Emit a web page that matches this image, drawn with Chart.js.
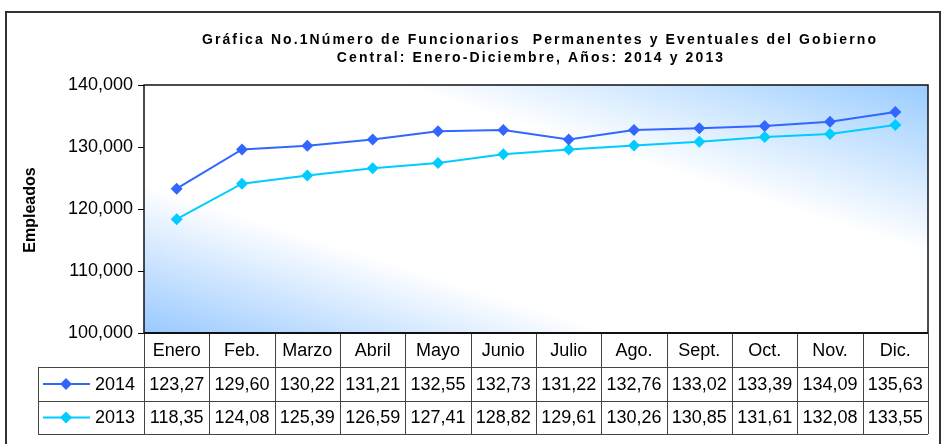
<!DOCTYPE html>
<html>
<head>
<meta charset="utf-8">
<script src="https://cdn.jsdelivr.net/npm/chart.js@4.4.1/dist/chart.umd.min.js"></script>
<style>
  html, body { margin: 0; padding: 0; background: #fff; }
  #wrap { width: 946px; height: 444px; }
</style>
</head>
<body>
<div id="wrap"><canvas id="grafica"></canvas></div>
<script>
/* ---------- datos ---------- */
const meses = ['Enero', 'Feb.', 'Marzo', 'Abril', 'Mayo', 'Junio', 'Julio', 'Ago.', 'Sept.', 'Oct.', 'Nov.', 'Dic.'];
const empleados2014 = [123270, 129600, 130220, 131210, 132550, 132730, 131220, 132760, 133020, 133390, 134090, 135630];
const empleados2013 = [118350, 124080, 125390, 126590, 127410, 128820, 129610, 130260, 130850, 131610, 132080, 133550];
const etiquetasSerie = ['2014', '2013'];
const tituloLineas = [
  'Gráfica No.1Número de Funcionarios  Permanentes y Eventuales del Gobierno',
  'Central: Enero-Diciembre, Años: 2014 y 2013'
];

const FONT = '"Liberation Sans", Arial, sans-serif';
const COLOR_2014 = '#3366FF';
const COLOR_2013 = '#00CCFF';

// the table in the original cuts off the last digit: 123270 -> "123,27"
const celda = v => (Math.floor(v / 10) / 100).toFixed(2).replace('.', ',');

function diamante(ctx, x, y, r, color) {
  ctx.beginPath();
  ctx.moveTo(x, y - r);
  ctx.lineTo(x + r, y);
  ctx.lineTo(x, y + r);
  ctx.lineTo(x - r, y);
  ctx.closePath();
  ctx.fillStyle = color;
  ctx.fill();
}

/* ---------- fondo degradado del area ---------- */
const fondoPlugin = {
  id: 'fondo',
  beforeDatasetsDraw(chart) {
    const { ctx, chartArea: a } = chart;
    const w = a.right - a.left, h = a.bottom - a.top;
    const cx = a.left + w / 2, cy = a.top + h / 2;
    // gradient across the shape's own diagonal (Excel "from corner" style)
    const n = Math.hypot(w, h);
    const ux = h / n, uy = -w / n;
    const d = (w * h) / n;
    const g = ctx.createLinearGradient(cx - ux * d, cy - uy * d, cx + ux * d, cy + uy * d);
    g.addColorStop(0, '#99C9FF');
    g.addColorStop(0.3, '#FFFFFF');
    g.addColorStop(0.66, '#FFFFFF');
    g.addColorStop(1, '#99CCFF');
    ctx.save();
    ctx.fillStyle = g;
    ctx.fillRect(a.left, a.top, w, h);
    ctx.restore();
  }
};

/* ---------- titulo, marco y tabla de datos ---------- */
const tablaPlugin = {
  id: 'tabla',
  afterDraw(chart) {
    const { ctx, chartArea: a } = chart;
    const x = chart.scales.x;
    const colW = (a.right - a.left) / meses.length;
    const fila1 = a.bottom + 34, fila2 = fila1 + 34, fila3 = fila2 + 33;
    const leyIzq = 38;

    ctx.save();

    // outer frame
    ctx.strokeStyle = '#333';
    ctx.lineWidth = 2;
    ctx.strokeRect(6, 12, 934, 445);

    // title
    ctx.fillStyle = '#000';
    ctx.font = 'bold 14px ' + FONT;
    ctx.letterSpacing = '2.1px';
    ctx.textAlign = 'center';
    ctx.textBaseline = 'middle';
    ctx.fillText(tituloLineas[0], 540, 40);
    ctx.fillText(tituloLineas[1], 531, 58);
    ctx.letterSpacing = '0px';

    // y axis title
    ctx.save();
    ctx.translate(31, 210);
    ctx.rotate(-Math.PI / 2);
    ctx.font = 'bold 16px ' + FONT;
    ctx.fillText('Empleados', 0, 0);
    ctx.restore();

    // plot border
    ctx.strokeStyle = '#111';
    ctx.lineWidth = 1.5;
    ctx.strokeRect(a.left, a.top, a.right - a.left, a.bottom - a.top);

    // table grid
    ctx.strokeStyle = '#444';
    ctx.lineWidth = 1;
    ctx.beginPath();
    for (let i = 0; i <= meses.length; i++) {
      const px = Math.round(a.left + i * colW) + 0.5;
      ctx.moveTo(px, a.bottom);
      ctx.lineTo(px, fila3);
    }
    [fila1, fila2, fila3].forEach(y => {
      ctx.moveTo(leyIzq, y + 0.5);
      ctx.lineTo(a.right, y + 0.5);
    });
    ctx.moveTo(leyIzq + 0.5, fila1);
    ctx.lineTo(leyIzq + 0.5, fila3);
    ctx.stroke();

    // plot bottom line over table top
    ctx.strokeStyle = '#111';
    ctx.lineWidth = 2;
    ctx.beginPath();
    ctx.moveTo(a.left, a.bottom);
    ctx.lineTo(a.right, a.bottom);
    ctx.stroke();

    // cell texts
    ctx.fillStyle = '#000';
    ctx.font = '18px ' + FONT;
    ctx.textAlign = 'center';
    meses.forEach((m, i) => {
      const cx = x.getPixelForValue(i);
      ctx.fillText(m, cx, (a.bottom + fila1) / 2 + 1);
      ctx.fillText(celda(empleados2014[i]), cx, (fila1 + fila2) / 2 + 1);
      ctx.fillText(celda(empleados2013[i]), cx, (fila2 + fila3) / 2 + 1);
    });

    // legend keys
    const keys = [
      { label: etiquetasSerie[0], color: COLOR_2014, y: (fila1 + fila2) / 2 },
      { label: etiquetasSerie[1], color: COLOR_2013, y: (fila2 + fila3) / 2 }
    ];
    keys.forEach(k => {
      ctx.strokeStyle = k.color;
      ctx.lineWidth = 2;
      ctx.beginPath();
      ctx.moveTo(43, k.y);
      ctx.lineTo(90, k.y);
      ctx.stroke();
      diamante(ctx, 66, k.y, 6, k.color);
      ctx.fillStyle = '#000';
      ctx.textAlign = 'left';
      ctx.fillText(k.label, 95, k.y + 1);
    });

    ctx.restore();
  }
};

new Chart(document.getElementById('grafica'), {
  type: 'line',
  data: {
    labels: meses,
    datasets: [
      {
        label: etiquetasSerie[0],
        data: empleados2014,
        borderColor: COLOR_2014,
        backgroundColor: COLOR_2014,
        borderWidth: 2,
        pointStyle: 'rectRot',
        pointRadius: 6,
        pointBorderWidth: 0,
        tension: 0
      },
      {
        label: etiquetasSerie[1],
        data: empleados2013,
        borderColor: COLOR_2013,
        backgroundColor: COLOR_2013,
        borderWidth: 2,
        pointStyle: 'rectRot',
        pointRadius: 6,
        pointBorderWidth: 0,
        tension: 0
      }
    ]
  },
  options: {
    responsive: true,
    maintainAspectRatio: false,
    animation: false,
    layout: { padding: { top: 85, right: 18, bottom: 111, left: 0 } },
    plugins: {
      legend: { display: false },
      title: { display: false },
      tooltip: { enabled: false }
    },
    scales: {
      x: {
        display: false,
        offset: true
      },
      y: {
        min: 100000,
        max: 140000,
        afterFit: s => { s.width = 144; },
        border: { display: false },
        grid: { drawOnChartArea: false, drawTicks: true, tickLength: 6, color: '#000' },
        ticks: {
          stepSize: 10000,
          padding: 5,
          color: '#000',
          font: { family: FONT, size: 18 },
          callback: v => v.toLocaleString('en-US')
        }
      }
    }
  },
  plugins: [fondoPlugin, tablaPlugin]
});
</script>
</body>
</html>
